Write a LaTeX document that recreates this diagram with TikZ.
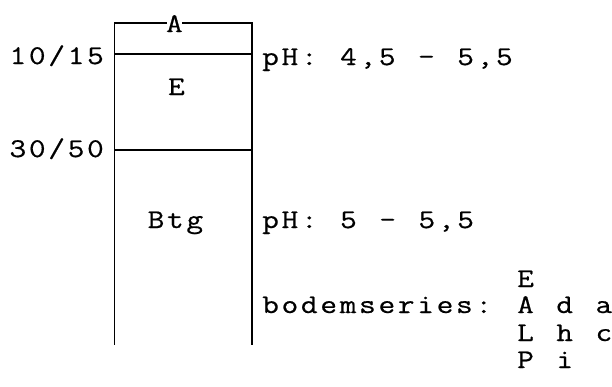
\documentclass[tikz,border=0pt]{standalone}
\usepackage{fontspec}
\setmonofont{Latin Modern Mono}[LetterSpace=10, FakeStretch=1.2, FakeBold=0.6, WordSpace=1.16]
\begin{document}
\begin{tikzpicture}[x=1pt,y=-1pt,
  lbl/.style={font=\ttfamily\fontsize{27}{28}\selectfont, inner sep=0pt},
  rule/.style={line width=1.4pt, line cap=rect}]
\useasboundingbox (0,0) rectangle (612,386);

% soil profile column
\coordinate (tl) at (114.5,23);
\coordinate (tr) at (252,23);
\coordinate (bl) at (114.5,344);
\coordinate (br) at (252,344);
\coordinate (l1) at (114.5,54);
\coordinate (r1) at (252,54);
\coordinate (l2) at (114.5,150);
\coordinate (r2) at (252,150);

% horizon labels
\node[lbl, anchor=base] (hA) at (174.4,32) {A};
\node[lbl, anchor=base] (hE) at (176.4,95) {E};
\node[lbl, anchor=base] (hB) at (175.4,228) {Btg};

\draw[rule] (tl) -- (tl -| hA.west);
\draw[rule] (tr -| hA.east) -- (tr);
\draw[rule] (tl) -- (bl);
\draw[rule] (tr) -- (br);
\draw[rule] (l1) -- (r1);
\draw[rule] (l2) -- (r2);

% depths
\node[lbl, anchor=base east] (d1) at (104,64) {10/15};
\node[lbl, anchor=base east] (d2) at (104,157) {30/50};

% properties
\node[lbl, anchor=base west] (ph1) at (262,65) {pH: 4,5 - 5,5};
\node[lbl, anchor=base west] (ph2) at (262,228) {pH: 5 - 5,5};
\node[lbl, anchor=base west] (bs) at (262,313) {bodemseries:};
\node[lbl, anchor=base west] (s1) at (517,287) {E};
\node[lbl, anchor=base west] (s2) at (517,313) {A d a};
\node[lbl, anchor=base west] (s3) at (517,341) {L h c};
\node[lbl, anchor=base west] (s4) at (517,368) {P i};
\end{tikzpicture}
\end{document}
